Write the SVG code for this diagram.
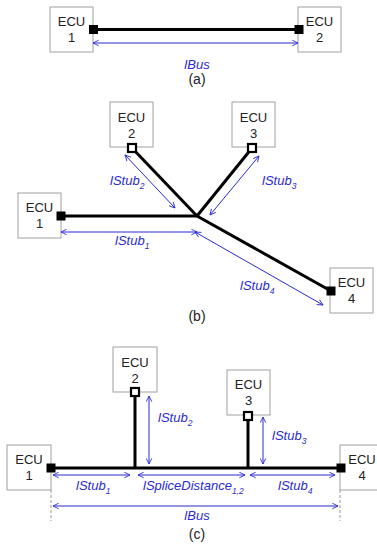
<svg xmlns="http://www.w3.org/2000/svg" width="377" height="546" viewBox="0 0 377 546">
<style>
.box{fill:#fff;stroke:#a0a0a0;stroke-width:1}
.ecu{font-family:"Liberation Sans",Arial,sans-serif;font-size:13px;fill:#222;text-anchor:middle}
.wire{stroke:#000;stroke-width:3;fill:none}
.dim{stroke:#2a2ad0;stroke-width:1;fill:none;marker-start:url(#ah);marker-end:url(#ah)}
.lbl{font-family:"Liberation Sans",Arial,sans-serif;font-size:13px;font-style:italic;fill:#2a2ad0}
.sub{font-size:8.5px}
.cap{font-family:"Liberation Sans",Arial,sans-serif;font-size:14px;fill:#222;text-anchor:middle}
.sq{fill:#000}
.osq{fill:#fff;stroke:#000;stroke-width:2.2}
.dash{stroke:#999;stroke-width:1;stroke-dasharray:3,2}
</style>
<defs>
<marker id="ah" viewBox="0 0 8 8" refX="7.5" refY="4" markerWidth="7" markerHeight="7" markerUnits="userSpaceOnUse" orient="auto-start-reverse">
<path d="M1,0.8 L7.5,4 L1,7.2" fill="none" stroke="#2a2ad0" stroke-width="1"/>
</marker>
</defs>
<g id="connectors">
<line class="wire" x1="93" y1="29.5" x2="299" y2="29.5"/>
<line class="wire" x1="61" y1="216" x2="197" y2="216"/>
<line class="wire" x1="197" y1="216" x2="132" y2="148"/>
<line class="wire" x1="197" y1="216" x2="252" y2="148"/>
<line class="wire" x1="197" y1="216" x2="331" y2="291"/>
<line class="wire" x1="51" y1="468" x2="341" y2="468"/>
<line class="wire" x1="135" y1="392" x2="135" y2="468"/>
<line class="wire" x1="248" y1="416" x2="248" y2="468"/>
</g>
<g id="a-ecu1"><rect class="box" x="50" y="7" width="43" height="45"/><text class="ecu" x="71.5" y="26">ECU</text><text class="ecu" x="71.5" y="42">1</text><rect class="sq" x="89" y="25" width="9" height="9"/></g>
<g id="a-ecu2"><rect class="box" x="298" y="7" width="43" height="45"/><text class="ecu" x="319.5" y="26">ECU</text><text class="ecu" x="319.5" y="42">2</text><rect class="sq" x="294.5" y="25" width="9" height="9"/></g>
<g id="a-dims">
<line class="dim" x1="93" y1="43" x2="298" y2="43"/>
<text class="lbl" x="197" y="69" text-anchor="middle">lBus</text>
<text class="cap" x="197" y="84">(a)</text>
</g>
<g id="b-ecu1"><rect class="box" x="18" y="193" width="43" height="45"/><text class="ecu" x="39.5" y="212">ECU</text><text class="ecu" x="39.5" y="228">1</text><rect class="sq" x="56.5" y="211.5" width="9" height="9"/></g>
<g id="b-ecu2"><rect class="box" x="110" y="102" width="43" height="45"/><text class="ecu" x="131.5" y="121.5">ECU</text><text class="ecu" x="131.5" y="137.5">2</text><rect class="osq" x="128" y="144" width="8" height="8"/></g>
<g id="b-ecu3"><rect class="box" x="232" y="102" width="43" height="45"/><text class="ecu" x="253.5" y="121.5">ECU</text><text class="ecu" x="253.5" y="137.5">3</text><rect class="osq" x="248" y="144" width="8" height="8"/></g>
<g id="b-ecu4"><rect class="box" x="330" y="268" width="43" height="45"/><text class="ecu" x="351.5" y="287">ECU</text><text class="ecu" x="351.5" y="303">4</text><rect class="sq" x="326.5" y="286.5" width="9" height="9"/></g>
<g id="b-dims">
<line class="dim" x1="61" y1="232" x2="197" y2="232"/>
<line class="dim" x1="125" y1="155" x2="175" y2="208"/>
<line class="dim" x1="259" y1="156" x2="210" y2="215"/>
<line class="dim" x1="195" y1="232" x2="323" y2="305"/>
<text class="lbl" x="115" y="245">lStub<tspan class="sub" dy="3.5">1</tspan></text>
<text class="lbl" x="110" y="185">lStub<tspan class="sub" dy="3.5">2</tspan></text>
<text class="lbl" x="262" y="185">lStub<tspan class="sub" dy="3.5">3</tspan></text>
<text class="lbl" x="240" y="290">lStub<tspan class="sub" dy="3.5">4</tspan></text>
<text class="cap" x="197" y="321">(b)</text>
</g>
<g id="c-ecu1"><rect class="box" x="7" y="445" width="44" height="45"/><text class="ecu" x="29" y="464">ECU</text><text class="ecu" x="29" y="480">1</text><rect class="sq" x="46.5" y="463.5" width="9" height="9"/></g>
<g id="c-ecu2"><rect class="box" x="113" y="347" width="44" height="45"/><text class="ecu" x="135" y="366.5">ECU</text><text class="ecu" x="135" y="382.5">2</text><rect class="osq" x="131" y="388" width="8" height="8"/></g>
<g id="c-ecu3"><rect class="box" x="227" y="370" width="43" height="45"/><text class="ecu" x="248.5" y="388.5">ECU</text><text class="ecu" x="248.5" y="404.5">3</text><rect class="osq" x="244" y="412" width="8" height="8"/></g>
<g id="c-ecu4"><rect class="box" x="340" y="445" width="44" height="45"/><text class="ecu" x="362" y="464">ECU</text><text class="ecu" x="362" y="480">4</text><rect class="sq" x="336.5" y="463.5" width="9" height="9"/></g>
<g id="c-dims">
<line class="dash" x1="51" y1="490" x2="51" y2="521"/>
<line class="dash" x1="340" y1="490" x2="340" y2="521"/>
<line class="dim" x1="53" y1="475" x2="130" y2="475"/>
<line class="dim" x1="138" y1="475" x2="245" y2="475"/>
<line class="dim" x1="250" y1="475" x2="335" y2="475"/>
<line class="dim" x1="53" y1="506" x2="338" y2="506"/>
<line class="dim" x1="149" y1="396" x2="149" y2="464"/>
<line class="dim" x1="263" y1="417" x2="263" y2="464"/>
<text class="lbl" x="158" y="422">lStub<tspan class="sub" dy="3.5">2</tspan></text>
<text class="lbl" x="272" y="440">lStub<tspan class="sub" dy="3.5">3</tspan></text>
<text class="lbl" x="76" y="490">lStub<tspan class="sub" dy="3.5">1</tspan></text>
<text class="lbl" x="143" y="490">lSpliceDistance<tspan class="sub" dy="3.5">1,2</tspan></text>
<text class="lbl" x="278" y="490">lStub<tspan class="sub" dy="3.5">4</tspan></text>
<text class="lbl" x="197" y="520" text-anchor="middle">lBus</text>
<text class="cap" x="197" y="539">(c)</text>
</g>
</svg>
